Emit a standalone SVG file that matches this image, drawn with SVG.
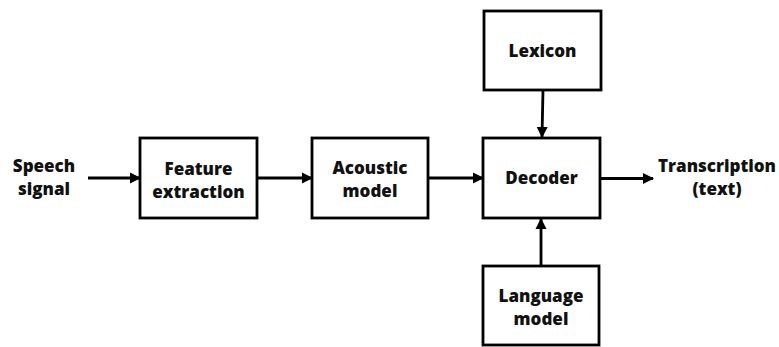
<svg xmlns="http://www.w3.org/2000/svg" width="779" height="347" viewBox="0 0 779 347">
<defs>
<marker id="ah" markerWidth="12" markerHeight="12" refX="10" refY="6" orient="auto" markerUnits="userSpaceOnUse"><path d="M0,0.5 L11,6 L0,11.5 z" fill="#000"/></marker>
<style>
.box{fill:#fff;stroke:#000;stroke-width:2.8}
.t{font-family:"Open Sans","Liberation Sans",sans-serif;font-weight:800;font-size:17px;text-anchor:middle;fill:#111}
.c{stroke:#000;stroke-width:2.8;fill:none;marker-end:url(#ah)}
</style>
</defs>
<rect width="779" height="347" fill="#fff"/>
<g id="speech"><text class="t" x="44" y="172">Speech</text><text class="t" x="44" y="195">signal</text></g>
<g id="feature"><rect class="box" x="140" y="138" width="117" height="80"/><text class="t" x="198.5" y="175">Feature</text><text class="t" x="198.5" y="198">extraction</text></g>
<g id="acoustic"><rect class="box" x="312" y="138" width="116" height="80"/><text class="t" x="370" y="174">Acoustic</text><text class="t" x="370" y="197">model</text></g>
<g id="lexicon"><rect class="box" x="484" y="11" width="117" height="79"/><text class="t" x="542.5" y="57">Lexicon</text></g>
<g id="decoder"><rect class="box" x="483" y="138" width="117" height="80"/><text class="t" x="541.5" y="184">Decoder</text></g>
<g id="language"><rect class="box" x="483" y="266" width="116" height="79"/><text class="t" x="541" y="302">Language</text><text class="t" x="541" y="325">model</text></g>
<g id="transcription"><text class="t" x="717" y="172">Transcription</text><text class="t" x="717" y="195">(text)</text></g>
<g id="connectors">
<line class="c" x1="88" y1="178" x2="140" y2="178"/>
<line class="c" x1="257" y1="178" x2="312" y2="178"/>
<line class="c" x1="428" y1="178" x2="483" y2="178"/>
<line class="c" x1="543" y1="90" x2="542" y2="137"/>
<line class="c" x1="541" y1="266" x2="541" y2="219"/>
<line class="c" x1="600" y1="178.5" x2="653" y2="178.5"/>
</g>
</svg>
